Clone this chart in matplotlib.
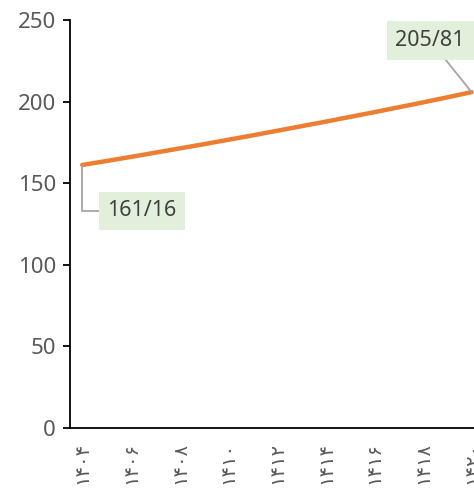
import matplotlib
matplotlib.use('Agg')
import matplotlib.pyplot as plt

plt.rcParams['font.family'] = ['Noto Sans', 'DejaVu Sans']

# years (solar hijri) and values
years = list(range(1404, 1421))
values = [161.16, 163.6, 166.1, 168.7, 171.3, 173.9, 176.6, 179.3, 182.1,
          184.9, 187.7, 190.6, 193.5, 196.5, 199.5, 202.6, 205.81]
tick_years = [1404, 1406, 1408, 1410, 1412, 1414, 1416, 1418, 1420]
tick_labels = ['۱۴۰۴', '۱۴۰۶', '۱۴۰۸', '۱۴۱۰', '۱۴۱۲', '۱۴۱۴', '۱۴۱۶', '۱۴۱۸', '۱۴۲۰']
first_label = '161/16'
last_label = '205/81'

fig = plt.figure(figsize=(4.74, 4.88), dpi=100)
ax = fig.add_axes([70 / 474, 60 / 488, 404 / 474, 408 / 488])

ax.plot(years, values, color='#ED7D31', lw=3.2, solid_capstyle='round', zorder=3)

ax.set_xlim(1403.5, 1420.1)
ax.set_ylim(0, 250)
ax.set_yticks([0, 50, 100, 150, 200, 250])
ax.set_xticks(tick_years)
ax.set_xticklabels(tick_labels, rotation=90, family=['DejaVu Sans'])

for s in ['top', 'right']:
    ax.spines[s].set_visible(False)
for s in ['left', 'bottom']:
    ax.spines[s].set_linewidth(1.3)
    ax.spines[s].set_color('black')

ax.tick_params(axis='y', length=5, width=1.3, labelsize=16, labelcolor='#595959', pad=5)
ax.tick_params(axis='x', length=0, labelsize=14, labelcolor='#595959', pad=10)

box = dict(boxstyle='square,pad=0.4', fc='#E2EFDA', ec='none')
ax.annotate(first_label, xy=(years[0], values[0]), xytext=(1406.45, 133),
            ha='center', va='center', fontsize=15.5, color='#404040', bbox=box,
            arrowprops=dict(arrowstyle='-', color='#A5A5A5', lw=1.3,
                            connectionstyle='angle,angleA=0,angleB=90,rad=0',
                            shrinkA=0, shrinkB=0))
ax.annotate(last_label, xy=(years[-1], values[-1]), xytext=(1418.3, 237.5),
            ha='center', va='center', fontsize=15.5, color='#404040', bbox=box,
            arrowprops=dict(arrowstyle='-', color='#A5A5A5', lw=1.3,
                            shrinkA=0, shrinkB=0))

fig.savefig('out.png', dpi=100)
